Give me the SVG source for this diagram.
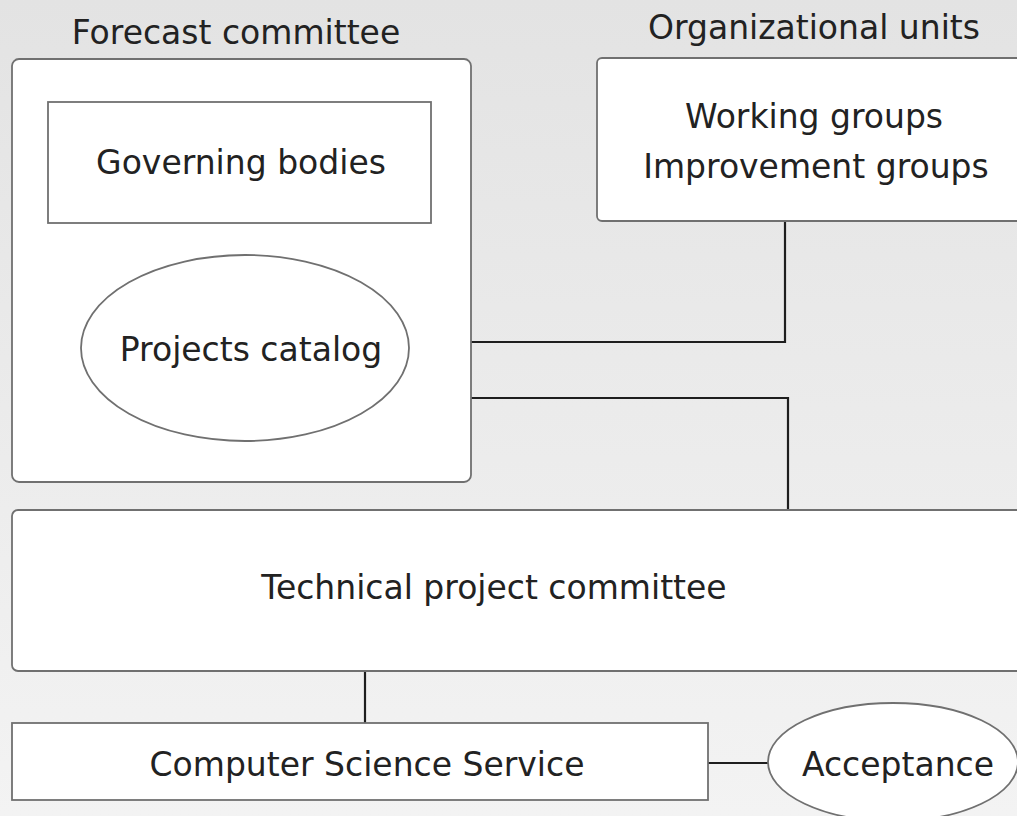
<svg xmlns="http://www.w3.org/2000/svg" width="1017" height="816" viewBox="0 0 1017 816">
<defs>
<linearGradient id="bg" x1="0" y1="0" x2="0" y2="1">
<stop offset="0" stop-color="#e3e3e3"/>
<stop offset="1" stop-color="#f3f3f3"/>
</linearGradient>
<style>
.box{fill:#fff;stroke:#707070;stroke-width:1.8}
.t{font-family:"DejaVu Sans",sans-serif;font-size:33px;fill:#222;text-anchor:middle}
.c{fill:none;stroke:#1e1e1e;stroke-width:2.2}
</style>
</defs>
<rect width="1017" height="816" fill="url(#bg)"/>
<text class="t" x="236" y="44">Forecast committee</text>
<text class="t" x="814" y="39">Organizational units</text>
<g id="connectors">
<polyline class="c" points="471,342 785,342 785,222"/>
<polyline class="c" points="471,398 788,398 788,510"/>
<line class="c" x1="365" y1="671" x2="365" y2="723" stroke-width="1.6"/>
<line class="c" x1="708" y1="763" x2="768" y2="763"/>
</g>
<g id="forecast-committee">
<rect class="box" x="12" y="59" width="459" height="423" rx="7"/>
</g>
<g id="governing-bodies">
<rect class="box" x="48" y="102" width="383" height="121"/>
<text class="t" x="241" y="174">Governing bodies</text>
</g>
<g id="projects-catalog">
<ellipse class="box" cx="245" cy="348" rx="164" ry="93"/>
<text class="t" x="251" y="361">Projects catalog</text>
</g>
<g id="organizational-units">
<rect class="box" x="597" y="58" width="430" height="163" rx="5"/>
<text class="t" x="814" y="128">Working groups</text>
<text class="t" x="816" y="178">Improvement groups</text>
</g>
<g id="technical-project-committee">
<rect class="box" x="12" y="510" width="1015" height="161" rx="6"/>
<text class="t" x="494" y="599">Technical project committee</text>
</g>
<g id="computer-science-service">
<rect class="box" x="12" y="723" width="696" height="77"/>
<text class="t" x="367" y="776">Computer Science Service</text>
</g>
<g id="acceptance">
<ellipse class="box" cx="893" cy="762" rx="125" ry="59"/>
<text class="t" x="898" y="776">Acceptance</text>
</g>
</svg>
